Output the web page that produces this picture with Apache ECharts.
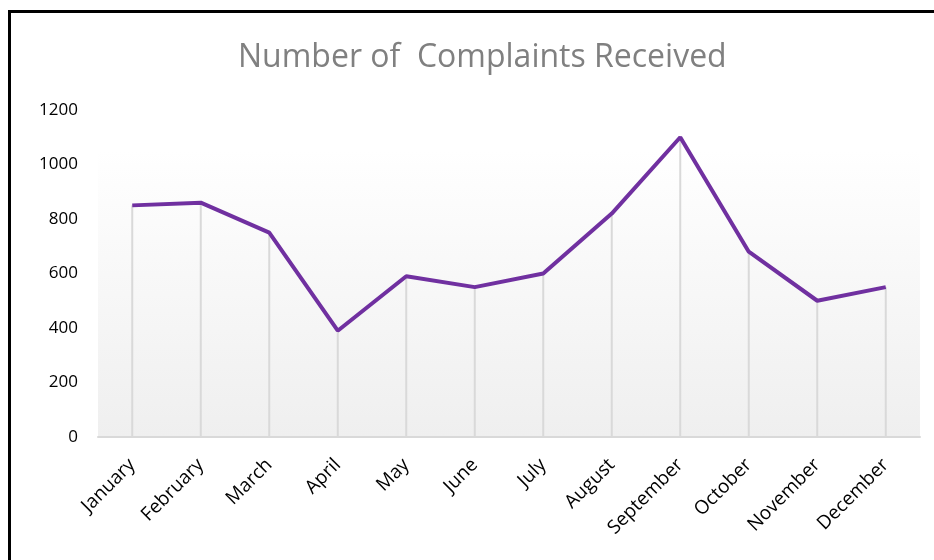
<!DOCTYPE html>
<html><head><meta charset="utf-8">
<script src="https://cdn.jsdelivr.net/npm/echarts@6/dist/echarts.min.js"></script>
<style>html,body{margin:0;padding:0;background:#fff;}#c{width:934px;height:560px;}</style>
</head><body><div id="c"></div>
<script>
var months = ["January","February","March","April","May","June","July","August","September","October","November","December"];
var complaints = [850, 860, 750, 390, 590, 550, 600, 820, 1100, 680, 500, 550];
var yTicks = [0, 200, 400, 600, 800, 1000, 1200];
var titleText = "Number of  Complaints Received";

var chart = echarts.init(document.getElementById('c'));
chart.setOption({
  animation: false,
  title: {
    text: titleText, left: 233, top: 37,
    textStyle: {color: '#808080', fontSize: 32, fontWeight: 'normal', fontFamily: 'Open Sans'}
  },
  graphic: [{
    type: 'rect', silent: true, z: 100,
    shape: {x: 9.5, y: 11.5, width: 1000, height: 1000},
    style: {fill: 'none', stroke: '#000', lineWidth: 3}
  }],
  grid: {
    left: 98, right: 14, top: 110, bottom: 123,
    show: true, borderWidth: 0,
    backgroundColor: {type: 'linear', x: 0, y: 0, x2: 0, y2: 1,
      colorStops: [{offset: 0, color: '#ffffff'}, {offset: 0.12, color: '#ffffff'}, {offset: 1, color: '#efefef'}]}
  },
  xAxis: {
    type: 'category', data: months, boundaryGap: true,
    axisLine: {show: true, lineStyle: {color: '#d9d9d9', width: 2}},
    axisTick: {show: false},
    axisLabel: {rotate: 45, color: '#000', fontSize: 19, fontFamily: 'Open Sans', margin: 25, interval: 0},
    splitLine: {show: false}
  },
  yAxis: {
    type: 'value', min: yTicks[0], max: yTicks[yTicks.length - 1], interval: 200,
    axisLine: {show: false}, axisTick: {show: false},
    axisLabel: {color: '#000', fontSize: 17, fontFamily: 'Open Sans', margin: 20, formatter: function (v) { return String(v); }},
    splitLine: {show: false}
  },
  series: [{
    type: 'bar', data: complaints, barWidth: 2, barGap: '-100%',
    itemStyle: {color: '#d9d9d9'}, silent: true, z: 1
  }, {
    type: 'line', data: complaints, symbol: 'none', z: 5,
    lineStyle: {color: '#7030a0', width: 4}
  }]
});
</script></body></html>
